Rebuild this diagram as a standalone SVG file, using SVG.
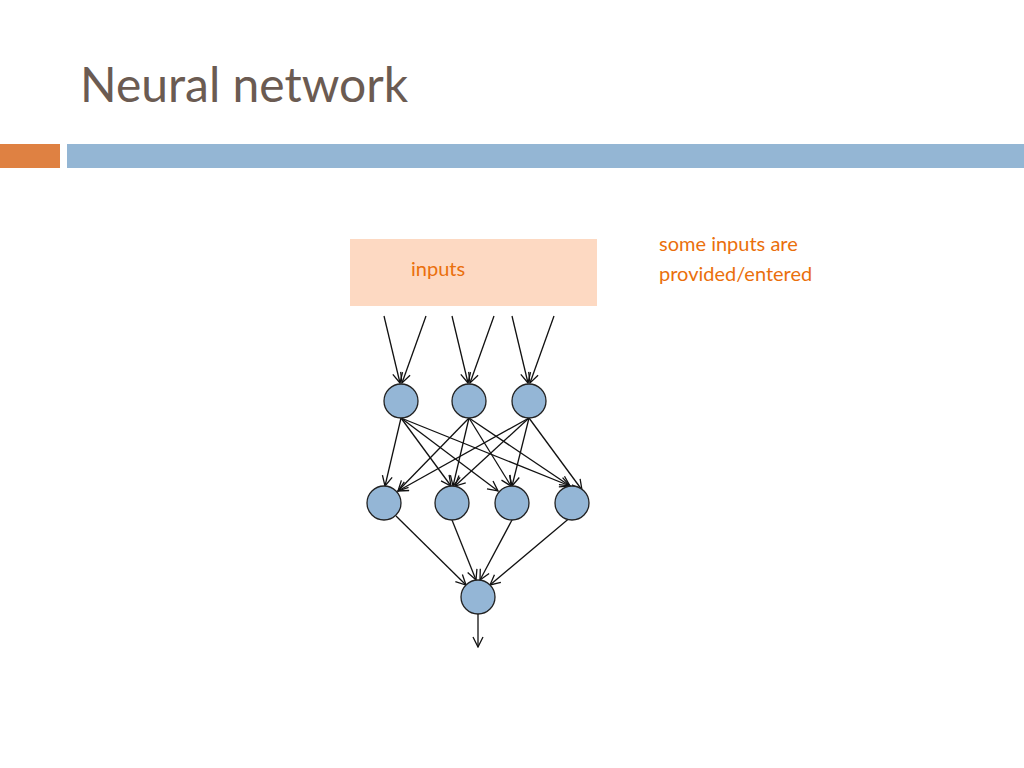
<svg xmlns="http://www.w3.org/2000/svg" width="1024" height="768" viewBox="0 0 1024 768">
<style>
.n{fill:#94b6d6;stroke:#222;stroke-width:1.3}
.c line{stroke:#111;stroke-width:1.3;marker-end:url(#a)}
.o{fill:#ea6f0c;font-family:Lato,"Open Sans",sans-serif;font-size:20px}
</style>
<defs><marker id="a" viewBox="0 0 12 12" refX="11" refY="6" markerWidth="12" markerHeight="12" markerUnits="userSpaceOnUse" orient="auto"><path d="M1,1 L11,6 L1,11" fill="none" stroke="#111" stroke-width="1.3"/></marker></defs>
<rect width="1024" height="768" fill="#fff"/>
<text x="80" y="102" font-family="Lato,'Open Sans',sans-serif" font-size="48" fill="#6b5b52">Neural network</text>
<rect x="0" y="144" width="60" height="24" fill="#df8142"/>
<rect x="67" y="144" width="957" height="24" fill="#94b6d4"/>
<g id="inputs"><rect x="350" y="239" width="247" height="67" fill="#fdd9c2"/><text class="o" x="411" y="276">inputs</text></g>
<g id="note"><text class="o" x="659" y="251">some inputs are</text><text class="o" x="659" y="281">provided/entered</text></g>
<g class="c">
<line x1="384" y1="316" x2="400" y2="383"/><line x1="426" y1="316" x2="402" y2="383"/>
<line x1="452" y1="316" x2="468" y2="383"/><line x1="494" y1="316" x2="470" y2="383"/>
<line x1="512" y1="316" x2="528" y2="383"/><line x1="554" y1="316" x2="530" y2="383"/>
<line x1="401" y1="418" x2="385" y2="486"/><line x1="401" y1="418" x2="451" y2="486"/><line x1="401" y1="418" x2="498" y2="491"/><line x1="401" y1="418" x2="570" y2="486"/>
<line x1="469" y1="418" x2="398" y2="491"/><line x1="469" y1="418" x2="453" y2="486"/><line x1="469" y1="418" x2="511" y2="486"/><line x1="469" y1="418" x2="570" y2="486"/>
<line x1="529" y1="418" x2="398" y2="491"/><line x1="529" y1="418" x2="455" y2="486"/><line x1="529" y1="418" x2="512" y2="486"/><line x1="529" y1="418" x2="582" y2="490"/>
<line x1="396" y1="516" x2="466" y2="585"/><line x1="452" y1="520" x2="476" y2="580"/><line x1="512" y1="520" x2="480" y2="580"/><line x1="572" y1="516" x2="490" y2="585"/>
<line x1="478" y1="614" x2="478" y2="647"/>
</g>
<g id="h1"><circle class="n" cx="401" cy="401" r="17"/></g>
<g id="h2"><circle class="n" cx="469" cy="401" r="17"/></g>
<g id="h3"><circle class="n" cx="529" cy="401" r="17"/></g>
<g id="m1"><circle class="n" cx="384" cy="503" r="17"/></g>
<g id="m2"><circle class="n" cx="452" cy="503" r="17"/></g>
<g id="m3"><circle class="n" cx="512" cy="503" r="17"/></g>
<g id="m4"><circle class="n" cx="572" cy="503" r="17"/></g>
<g id="out"><circle class="n" cx="478" cy="597" r="17"/></g>
</svg>
